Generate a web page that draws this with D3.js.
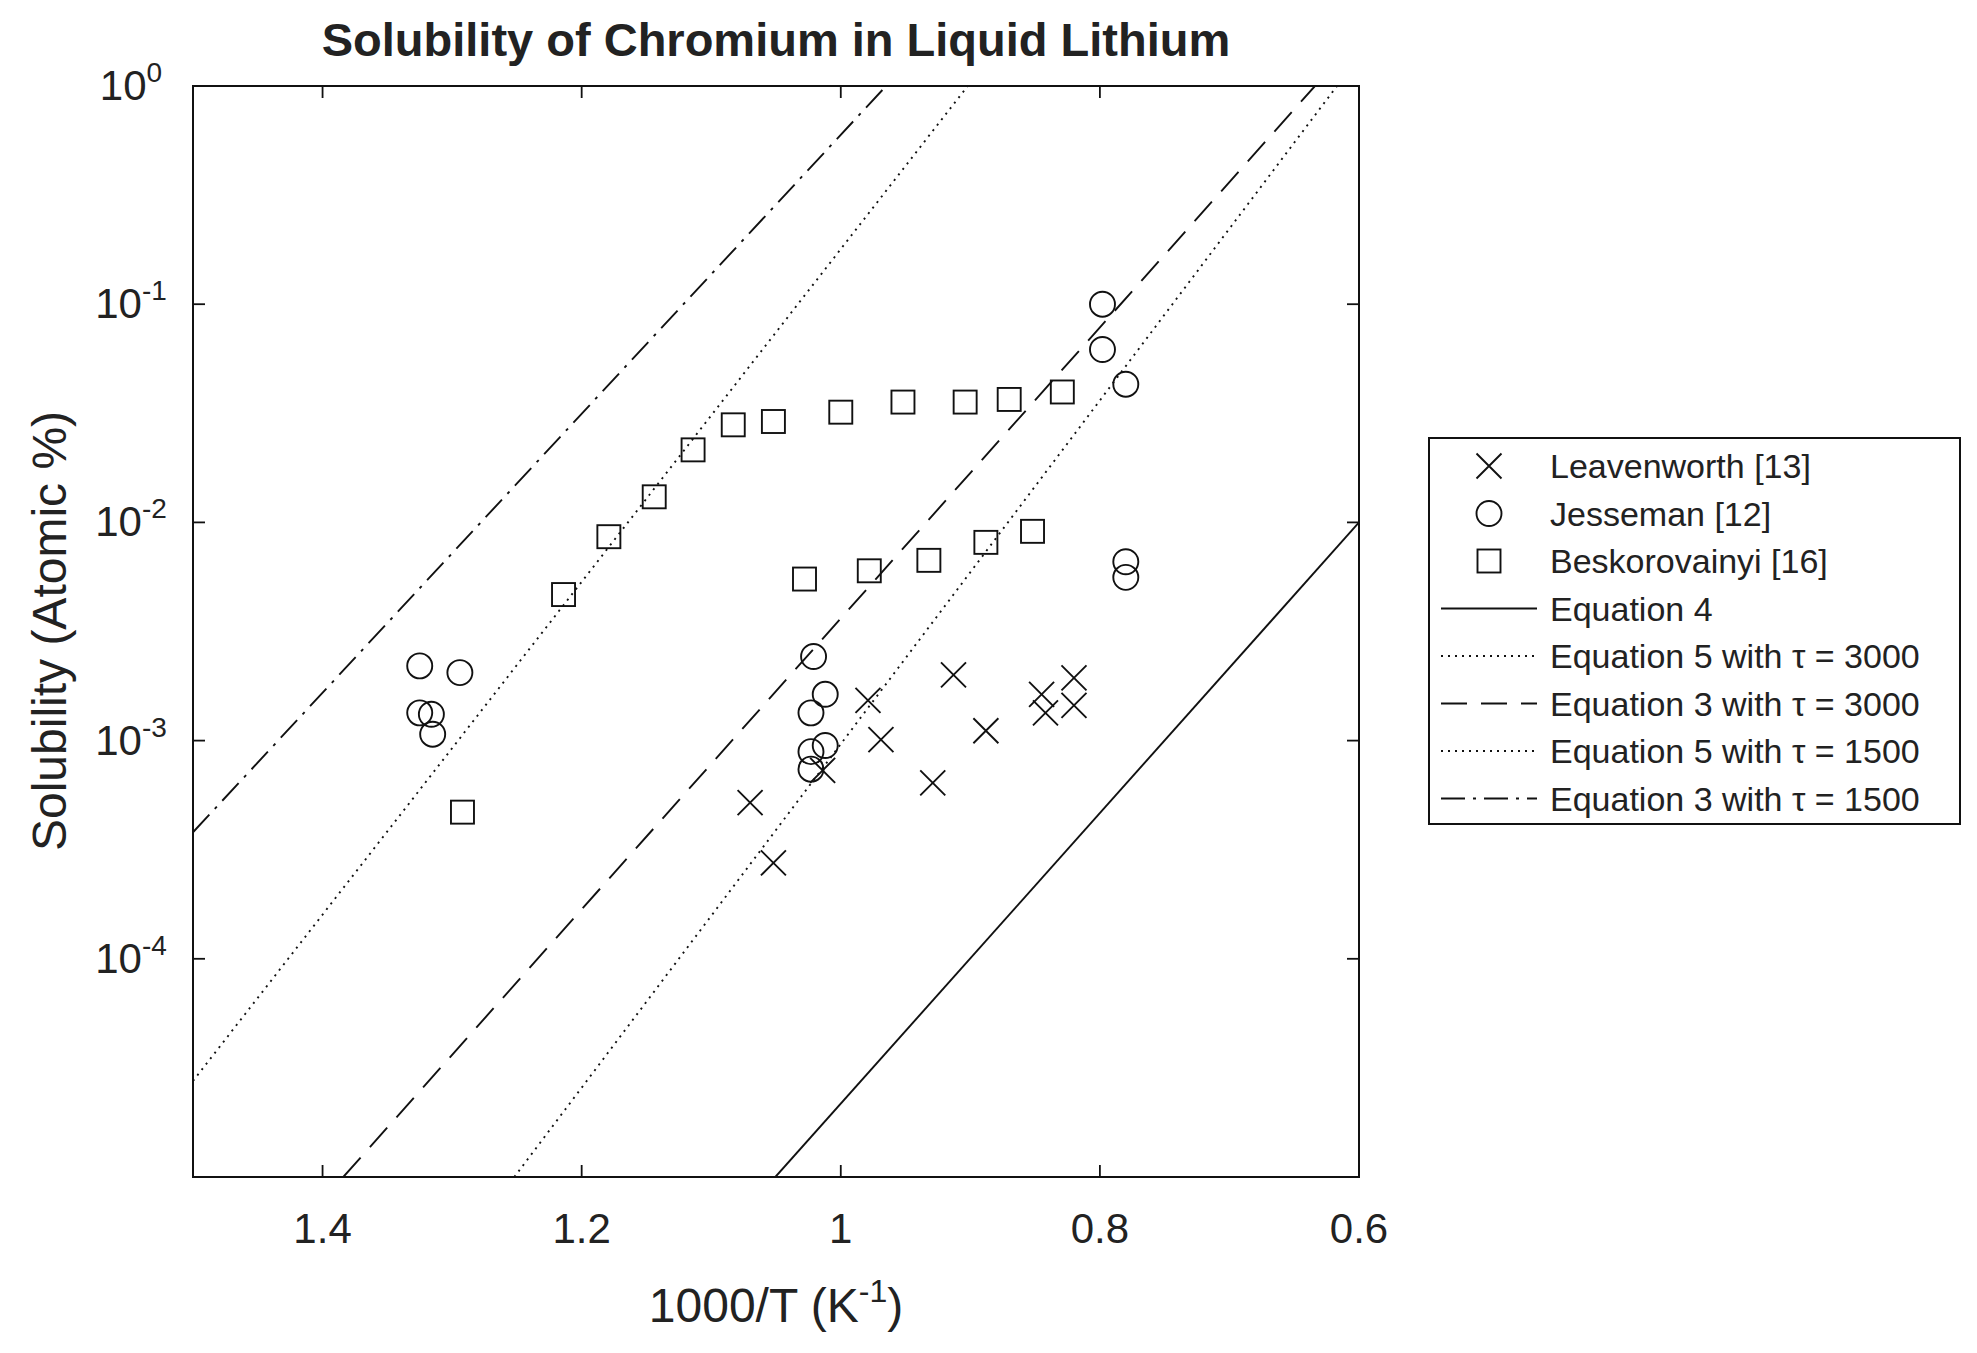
<!DOCTYPE html>
<html>
<head>
<meta charset="utf-8">
<script src="https://cdn.jsdelivr.net/npm/d3@7"></script>
<style>
  body { margin: 0; background: #fff; }
  text { font-family: "Liberation Sans", Arial, sans-serif; fill: #222; }
</style>
</head>
<body>
<svg id="chart" width="1977" height="1353"></svg>
<script>
const width = 1977;
const height = 1353;

// data: x = 1000/T, y = solubility (atomic %)
const leavX = [1.070, 1.052, 1.014, 0.979, 0.969, 0.929, 0.913, 0.888, 0.845, 0.842, 0.820, 0.820];
const leavY = [5.2e-4, 2.75e-4, 7.3e-4, 1.53e-3, 1.01e-3, 6.4e-4, 2.0e-3, 1.11e-3, 1.63e-3, 1.34e-3, 1.94e-3, 1.45e-3];

const jessX = [1.325, 1.294, 1.325, 1.316, 1.315, 1.021, 1.023, 1.012, 1.023, 1.012, 1.023, 0.798, 0.798, 0.780, 0.780, 0.780];
const jessY = [2.2e-3, 2.05e-3, 1.34e-3, 1.32e-3, 1.07e-3, 2.43e-3, 1.34e-3, 1.63e-3, 8.9e-4, 9.5e-4, 7.4e-4, 0.1, 0.062, 0.043, 6.6e-3, 5.6e-3];

const beskX = [1.292, 1.214, 1.179, 1.144, 1.114, 1.083, 1.052, 1.000, 0.952, 0.904, 0.870, 0.829, 1.028, 0.978, 0.932, 0.888, 0.852];
const beskY = [4.7e-4, 4.67e-3, 8.6e-3, 0.0131, 0.0215, 0.028, 0.029, 0.032, 0.0356, 0.0356, 0.0366, 0.0396, 5.5e-3, 6.0e-3, 6.7e-3, 8.1e-3, 9.1e-3];

// equation lines: two end points each
const eqNames = ["Equation 4", "Equation 5 with \u03c4 = 3000", "Equation 3 with \u03c4 = 3000", "Equation 5 with \u03c4 = 1500", "Equation 3 with \u03c4 = 1500"];
const eqX = [[1.0505, 0.6], [1.252, 0.617], [1.384, 0.634], [1.5, 0.902], [1.5, 0.965]];
const eqY = [[1e-5, 1e-2], [1e-5, 1], [1e-5, 1], [10 ** -4.56, 1], [10 ** -3.42, 1]];
const eqDash = ["none", "2,5", "26,14", "2,5", "24,8,3,8"];

const xTicks = [1.4, 1.2, 1, 0.8, 0.6];
const yTicks = [0, -1, -2, -3, -4];

const margin = { left: 193, right: 1359, top: 86, bottom: 1177 };

const svg = d3.select("#chart");

const x = d3.scaleLinear().domain([1.5, 0.6]).range([margin.left, margin.right]);
const y = d3.scaleLog().domain([1e-5, 1]).range([margin.bottom, margin.top]);

svg.append("defs").append("clipPath").attr("id", "plotClip")
  .append("rect")
  .attr("x", margin.left).attr("y", margin.top)
  .attr("width", margin.right - margin.left).attr("height", margin.bottom - margin.top);

// lines
const plot = svg.append("g").attr("clip-path", "url(#plotClip)");
const lineGen = d3.line().x((d) => x(d[0])).y((d) => y(d[1]));
eqX.forEach((xs, i) => {
  plot.append("path")
    .attr("d", lineGen(xs.map((v, j) => [v, eqY[i][j]])))
    .attr("fill", "none")
    .attr("stroke", "#111")
    .attr("stroke-width", 1.9)
    .attr("stroke-dasharray", eqDash[i]);
});

// markers
const R = 12.5;
function cross(g, cx, cy) {
  g.append("path")
    .attr("d", `M${cx - R},${cy - R}L${cx + R},${cy + R}M${cx - R},${cy + R}L${cx + R},${cy - R}`)
    .attr("stroke", "#111").attr("stroke-width", 1.9).attr("fill", "none");
}
function circle(g, cx, cy) {
  g.append("circle").attr("cx", cx).attr("cy", cy).attr("r", R)
    .attr("stroke", "#111").attr("stroke-width", 1.9).attr("fill", "none");
}
function square(g, cx, cy) {
  g.append("rect").attr("x", cx - R + 1).attr("y", cy - R + 1)
    .attr("width", 2 * R - 2).attr("height", 2 * R - 2)
    .attr("stroke", "#111").attr("stroke-width", 1.9).attr("fill", "none");
}
const marks = svg.append("g");
leavX.forEach((v, i) => cross(marks, x(v), y(leavY[i])));
jessX.forEach((v, i) => circle(marks, x(v), y(jessY[i])));
beskX.forEach((v, i) => square(marks, x(v), y(beskY[i])));

// axes box + inward ticks
const axes = svg.append("g");
axes.append("rect")
  .attr("x", margin.left).attr("y", margin.top)
  .attr("width", margin.right - margin.left).attr("height", margin.bottom - margin.top)
  .attr("fill", "none").attr("stroke", "#111").attr("stroke-width", 2);

const tl = 12;
xTicks.forEach((t) => {
  axes.append("line").attr("x1", x(t)).attr("x2", x(t))
    .attr("y1", margin.bottom).attr("y2", margin.bottom - tl).attr("stroke", "#111").attr("stroke-width", 1.8);
  axes.append("line").attr("x1", x(t)).attr("x2", x(t))
    .attr("y1", margin.top).attr("y2", margin.top + tl).attr("stroke", "#111").attr("stroke-width", 1.8);
  axes.append("text").attr("x", x(t)).attr("y", margin.bottom + 66)
    .attr("text-anchor", "middle").attr("font-size", 42).text(d3.format("~g")(t));
});
yTicks.forEach((e) => {
  const yy = y(10 ** e);
  axes.append("line").attr("x1", margin.left).attr("x2", margin.left + tl)
    .attr("y1", yy).attr("y2", yy).attr("stroke", "#111").attr("stroke-width", 1.8);
  axes.append("line").attr("x1", margin.right).attr("x2", margin.right - tl)
    .attr("y1", yy).attr("y2", yy).attr("stroke", "#111").attr("stroke-width", 1.8);
  const t = axes.append("text").attr("x", margin.left - 62).attr("y", yy + 14)
    .attr("text-anchor", "middle").attr("font-size", 42);
  t.append("tspan").text("10");
  t.append("tspan").attr("dy", -18).attr("font-size", 28).text(e);
});

// titles
svg.append("text").attr("x", 776).attr("y", 56).attr("text-anchor", "middle")
  .attr("font-size", 47).attr("font-weight", "bold").text("Solubility of Chromium in Liquid Lithium");

const xl = svg.append("text").attr("x", 776).attr("y", 1322).attr("text-anchor", "middle").attr("font-size", 48);
xl.append("tspan").text("1000/T (K");
xl.append("tspan").attr("dy", -20).attr("font-size", 32).text("-1");
xl.append("tspan").attr("dy", 20).text(")");

svg.append("text").attr("transform", "translate(66,631) rotate(-90)")
  .attr("text-anchor", "middle").attr("font-size", 48).text("Solubility (Atomic %)");

// legend
const lg = svg.append("g");
lg.append("rect").attr("x", 1429).attr("y", 438).attr("width", 531).attr("height", 386)
  .attr("fill", "#fff").attr("stroke", "#111").attr("stroke-width", 2);
const rowY = (i) => 466 + i * 47.5;
const labels = ["Leavenworth [13]", "Jesseman [12]", "Beskorovainyi [16]"].concat(eqNames);
const markFns = [cross, circle, square];
labels.forEach((lab, i) => {
  const yy = rowY(i);
  if (i < 3) markFns[i](lg, 1489, yy);
  else {
    lg.append("line").attr("x1", 1441).attr("x2", 1537).attr("y1", yy).attr("y2", yy)
      .attr("stroke", "#111").attr("stroke-width", 1.9).attr("stroke-dasharray", eqDash[i - 3]);
  }
  lg.append("text").attr("x", 1550).attr("y", yy + 12).attr("font-size", 34).text(lab);
});
</script>
</body>
</html>
